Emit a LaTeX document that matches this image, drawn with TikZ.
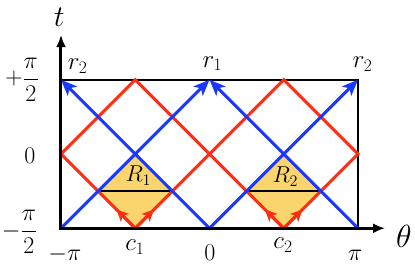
\RequirePackage{fix-cm}
\documentclass[tikz,border=0pt]{standalone}
\usetikzlibrary{arrows.meta}
\definecolor{rayred}{RGB}{255,45,20}
\definecolor{rayblue}{RGB}{25,55,255}
\definecolor{regionfill}{RGB}{250,212,108}
\begin{document}
\begin{tikzpicture}[x=47.27pt, y=47.27pt,
  redray/.style={draw=rayred, line width=3pt},
  redtip/.style={draw=rayred, line width=3pt, -{Stealth[length=12pt,width=11pt,inset=3pt]}},
  blueray/.style={draw=rayblue, line width=3pt},
  bluetip/.tip={Stealth[length=16pt,width=13pt,inset=4pt]},
  axis/.style={draw=black, line width=3pt},
  axistip/.tip={Latex[length=12pt,width=10pt]},
  lbl/.style={font=\fontsize{25}{27}\selectfont, inner sep=0pt},
  tick/.style={font=\fontsize{24}{26}\selectfont, inner sep=0pt}
]
\useasboundingbox (-4.432,-2.348) rectangle (4.347,3.258);

% corners and crossing points
\coordinate (BL) at ({-pi},{-pi/2});
\coordinate (BM) at (0,{-pi/2});
\coordinate (BR) at ({pi},{-pi/2});
\coordinate (TL) at ({-pi},{pi/2});
\coordinate (TM) at (0,{pi/2});
\coordinate (TR) at ({pi},{pi/2});
\coordinate (ML) at ({-pi},0);
\coordinate (MR) at ({pi},0);
\coordinate (C1) at ({-pi/2},{-pi/2});
\coordinate (C2) at ({pi/2},{-pi/2});
\coordinate (P1) at ({-pi/2},{pi/2});
\coordinate (P2) at ({pi/2},{pi/2});
\coordinate (Q1) at ({-pi/2},0);
\coordinate (Q2) at ({pi/2},0);
\coordinate (L1) at ({-3*pi/4},{-pi/4});
\coordinate (K1) at ({-pi/4},{-pi/4});
\coordinate (L2) at ({pi/4},{-pi/4});
\coordinate (K2) at ({3*pi/4},{-pi/4});
\coordinate (A1) at ({-pi/2-0.4},{-pi/2+0.4});
\coordinate (B1) at ({-pi/2+0.4},{-pi/2+0.4});
\coordinate (A2) at ({pi/2-0.4},{-pi/2+0.4});
\coordinate (B2) at ({pi/2+0.4},{-pi/2+0.4});
\coordinate (TA) at ({-pi},2.517);
\coordinate (XA) at (3.713,{-pi/2});

% regions
\fill[regionfill] (Q1) -- (L1) -- (C1) -- (K1) -- cycle;
\fill[regionfill] (Q2) -- (L2) -- (C2) -- (K2) -- cycle;
\draw[line width=2.5pt] (L1) -- (K1);
\draw[line width=2.5pt] (L2) -- (K2);

% frame
\draw[line width=1.5pt] (TL) -- (TR) -- (BR);

% rays
\draw[redray] (C1) -- (ML) -- (P1) -- (C2) -- (MR) -- (P2) -- cycle;
\draw[redtip] (C1) -- (A1);
\draw[redtip] (C1) -- (B1);
\draw[redtip] (C2) -- (A2);
\draw[redtip] (C2) -- (B2);
\draw[blueray, -bluetip] (BL) -- (TM);
\draw[blueray, -bluetip] (BR) -- (TM);
\draw[blueray, bluetip-bluetip] (TL) -- (BM) -- (TR);

% axes
\draw[axis, axistip-axistip] (TA) -- (BL) -- (XA);
\node[font=\fontsize{30}{32}\selectfont, inner sep=0pt, anchor=base] (tl) at (-3.18,2.7) {$t$};
\node[font=\fontsize{32}{34}\selectfont, inner sep=0pt, anchor=base] (thl) at (4.11,-1.97) {$\theta$};

% tick labels
\node[tick, anchor=east] (tp) at (-3.6,{pi/2}) {$+\displaystyle\frac{\pi}{2}$};
\node[tick] (tz) at (-3.8,-0.04) {$0$};
\node[tick, anchor=east] (tn) at (-3.64,-1.65) {$-\displaystyle\frac{\pi}{2}$};
\node[tick, anchor=base] (xn) at (-3.06,-2.25) {$-\pi$};
\node[tick, anchor=base] (xz) at (0.01,-2.26) {$0$};
\node[tick, anchor=base] (xp) at (3.08,-2.25) {$\pi$};

% point labels
\node[lbl, anchor=base] (lc1) at (-1.58,-2.04) {$c_1$};
\node[lbl, anchor=base] (lc2) at (1.555,-2.0) {$c_2$};
\node[lbl, anchor=base west] (lr2a) at (-3.0,1.78) {$r_2$};
\node[lbl, anchor=base west] (lr1) at (-0.15,1.84) {$r_1$};
\node[lbl, anchor=base west] (lr2b) at (3.03,1.82) {$r_2$};
\node[lbl, anchor=base west, font=\fontsize{23}{25}\selectfont] (lR1) at (-1.78,-0.586) {$R_1$};
\node[lbl, anchor=base west, font=\fontsize{23}{25}\selectfont] (lR2) at (1.33,-0.61) {$R_2$};
\end{tikzpicture}
\end{document}
